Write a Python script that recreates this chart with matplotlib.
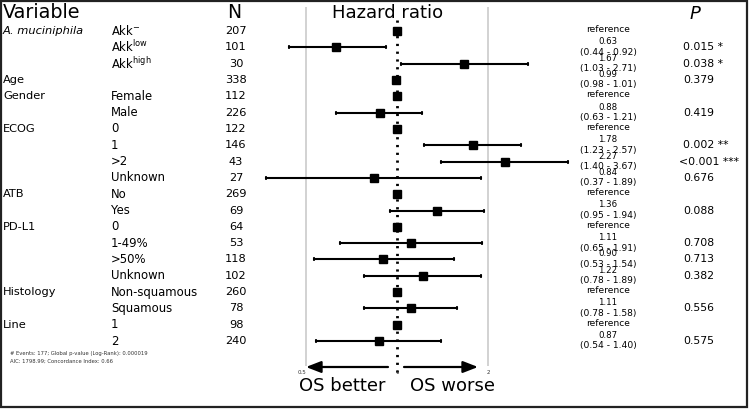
import numpy as np
import matplotlib
matplotlib.use("Agg")
import matplotlib.pyplot as plt
from matplotlib.transforms import Affine2D, blended_transform_factory

plt.rcParams["font.family"] = ["DejaVu Sans"]
plt.rcParams["mathtext.fontset"] = "dejavusans"

# data
groups = ["A. muciniphila", "", "", "Age", "Gender", "", "ECOG", "", "", "",
          "ATB", "", "PD-L1", "", "", "", "Histology", "", "Line", ""]
levels = [r"Akk$^{\mathrm{-}}$", r"Akk$^{\mathrm{low}}$", r"Akk$^{\mathrm{high}}$", "",
          "Female", "Male", "0", "1", ">2", "Unknown", "No", "Yes",
          "0", "1-49%", ">50%", "Unknown", "Non-squamous", "Squamous", "1", "2"]
n_pat = [207, 101, 30, 338, 112, 226, 122, 146, 43, 27,
         269, 69, 64, 53, 118, 102, 260, 78, 98, 240]
hr = [1, 0.63, 1.67, 0.99, 1, 0.88, 1, 1.78, 2.27, 0.84,
      1, 1.36, 1, 1.11, 0.90, 1.22, 1, 1.11, 1, 0.87]
ci_lo = [None, 0.44, 1.03, 0.98, None, 0.63, None, 1.23, 1.40, 0.37,
         None, 0.95, None, 0.65, 0.53, 0.78, None, 0.78, None, 0.54]
ci_hi = [None, 0.92, 2.71, 1.01, None, 1.21, None, 2.57, 3.67, 1.89,
         None, 1.94, None, 1.91, 1.54, 1.89, None, 1.58, None, 1.40]
pvals = ["", "0.015 *", "0.038 *", "0.379", "", "0.419", "", "0.002 **", "<0.001 ***", "0.676",
         "", "0.088", "", "0.708", "0.713", "0.382", "", "0.556", "", "0.575"]
xticks = [0.5, 1, 2]

W, H = 750, 409
row0, dy = 31, 16.32
x1, xs = 397, 91  # pixel of HR=1, pixels per doubling


def row_of(py):
    return (py - row0) / dy


fig = plt.figure(figsize=(7.5, 4.09), dpi=100)
ax = fig.add_axes([0, 0, 1, 1])
ax.set_xscale("log", base=2)
ax.set_xlim(2 ** (-x1 / xs), 2 ** ((W - x1) / xs))
ax.set_ylim(row_of(H), row_of(0))
ax.axis("off")

pix = Affine2D().scale(1 / W, -1 / H).translate(0, 1) + fig.transFigure
px_row = blended_transform_factory(Affine2D().scale(1 / W, 1) + fig.transFigure, ax.transData)

# guide lines
ax.vlines([0.5, 2], row_of(7), row_of(366), color="#cfcfcf", lw=1.3, zorder=1)
ax.vlines(1, row_of(20), row_of(377), color="black", lw=2.0, linestyles=(0, (0.8, 2.0)), zorder=2)

rows = np.arange(len(hr))
for i in rows:
    if ci_lo[i] is not None:
        ax.plot([ci_lo[i], ci_hi[i]], [i, i], color="black", lw=1.5, zorder=3)
        ax.plot([ci_lo[i], ci_hi[i]], [i, i], ls="none", marker="|", ms=3, mew=1.2,
                color="black", zorder=3)
ax.plot(hr, rows, ls="none", marker="s", ms=6, color="black", zorder=4)

# left columns
for i in rows:
    if groups[i]:
        ax.text(3, i, groups[i], transform=px_row, fontsize=8.2, va="center", ha="left",
                style="italic" if i == 0 else "normal")
    if levels[i]:
        ax.text(111, i, levels[i], transform=px_row, fontsize=8.4, va="center", ha="left")
    ax.text(236, i, str(n_pat[i]), transform=px_row, fontsize=8.2, va="center", ha="center")

# right columns
for i in rows:
    if ci_lo[i] is None:
        ax.text(608, i - 0.1, "reference", transform=px_row, fontsize=6.6, va="center", ha="center")
    else:
        ax.text(608, i - 0.34, f"{hr[i]:.2f}", transform=px_row, fontsize=6.2, va="center", ha="center")
        ax.text(608, i + 0.3, f"({ci_lo[i]:.2f} - {ci_hi[i]:.2f})", transform=px_row,
                fontsize=6.6, va="center", ha="center")
    if pvals[i]:
        xp = 679 if pvals[i].startswith("<") else 683
        ax.text(xp, i, pvals[i], transform=px_row, fontsize=7.8, va="center", ha="left")

# headers
ax.text(3, 13, "Variable", transform=pix, fontsize=13.8, va="center", ha="left")
ax.text(234, 13, "N", transform=pix, fontsize=13.5, va="center", ha="center")
ax.text(388, 13, "Hazard ratio", transform=pix, fontsize=13, va="center", ha="center")
ax.text(695, 14, "P", transform=pix, fontsize=13, va="center", ha="center", style="italic")

# bottom axis
for t in xticks:
    ax.text(x1 + xs * np.log2(t) - (4 if t == 0.5 else 0), 372, f"{t:g}", transform=pix,
            fontsize=4, va="center", ha="center", color="#333333")
arrow = dict(arrowstyle="-|>,head_length=0.9,head_width=0.35", lw=1.6, color="black",
             mutation_scale=10, shrinkA=0, shrinkB=0)
ax.annotate("", xy=(306, 367), xytext=(388, 367), xycoords=pix, textcoords=pix, arrowprops=arrow)
ax.annotate("", xy=(478, 367), xytext=(404, 367), xycoords=pix, textcoords=pix, arrowprops=arrow)
ax.text(342, 386, "OS better", transform=pix, fontsize=13, va="center", ha="center")
ax.text(453, 386, "OS worse", transform=pix, fontsize=13, va="center", ha="center")

# footnote
ax.text(10, 354, "# Events: 177; Global p-value (Log-Rank): 0.000019", transform=pix,
        fontsize=3.8, va="center", ha="left", color="#333333")
ax.text(10, 361, "AIC: 1798.99; Concordance Index: 0.66", transform=pix,
        fontsize=3.8, va="center", ha="left", color="#333333")

# frame
fig.patches.append(plt.Rectangle((1 / W, 2 / H), 746 / W, 406 / H, transform=fig.transFigure,
                                 fill=False, ec="#222222", lw=1.6))

fig.savefig("out.png", dpi=100)
